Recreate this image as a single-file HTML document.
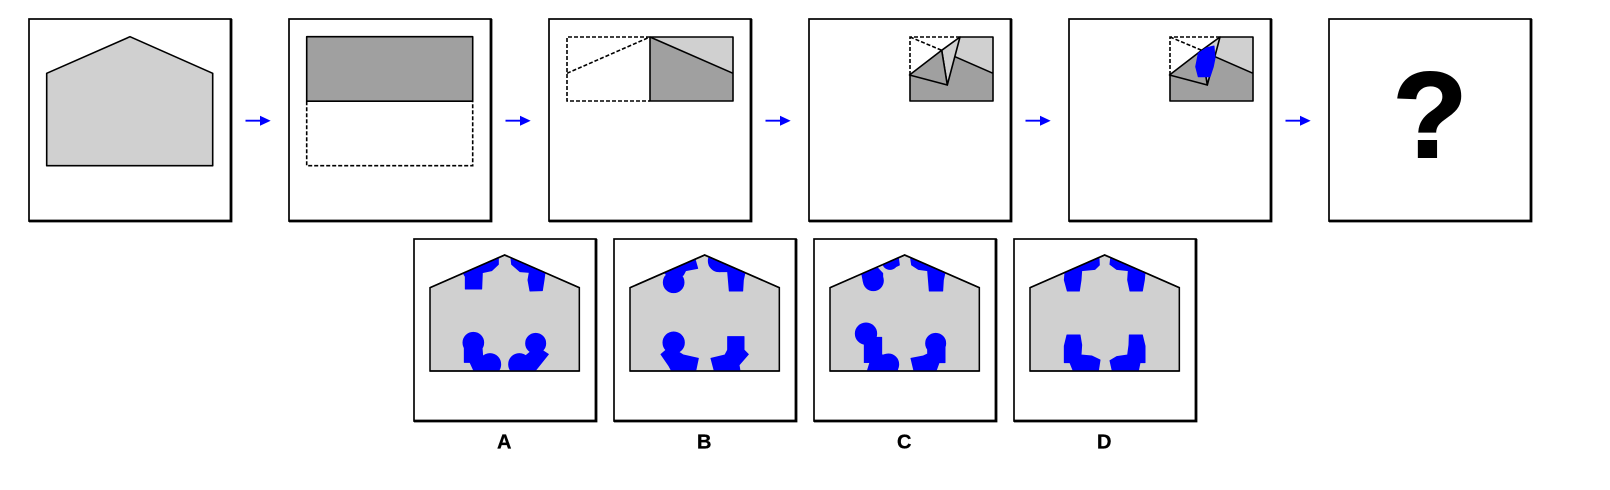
<!DOCTYPE html>
<html>
<head>
<meta charset="utf-8">
<title>Paper folding puzzle</title>
<style>
html,body{margin:0;padding:0;background:#fff;}
svg{display:block;}
.box{fill:#fff;stroke:#000;stroke-width:1.7;}
.thick{fill:none;stroke:#000;stroke-width:2.8;}
.ln{stroke:#000;stroke-width:1.6;fill:none;stroke-linejoin:round;}
.dash{stroke:#000;stroke-width:1.6;fill:none;stroke-dasharray:4 2;}
.light{fill:#d0d0d0;}
.dark{fill:#a0a0a0;}
.blue{fill:#0000ff;stroke:#0000ff;stroke-width:3;stroke-linejoin:round;}
.lbl{font-family:"Liberation Sans",sans-serif;font-weight:bold;font-size:20px;text-anchor:middle;fill:#000;stroke:#000;stroke-width:.3;}
.arrowhead{fill:#0000ff;}
</style>
</head>
<body>
<svg xmlns="http://www.w3.org/2000/svg" width="1610" height="490" viewBox="0 0 1610 490">
<defs>
<clipPath id="house-clip"><polygon points="90,173 314,75 538,173 538,423 90,423"/></clipPath>
<clipPath id="house-clip-b"><polygon points="105,173 329,75 553,173 553,423 105,423"/></clipPath>
<clipPath id="house-clip-c"><polygon points="120,173 344,75 568,173 568,423 120,423"/></clipPath>
<clipPath id="house-clip-d"><polygon points="135,173 359,75 583,173 583,423 135,423"/></clipPath>
</defs>

<!-- Step 1 -->
<g transform="translate(29,19)">
<rect class="box" x="0" y="0" width="202" height="202"/>
<path class="thick" d="M202,0V202H0"/>
<polygon class="ln" style="fill:#d0d0d0" points="17.7,54.3 101,17.7 183.7,54.3 183.7,146.7 17.7,146.7"/>
</g>
<g><line x1="245.5" y1="120.7" x2="262" y2="120.7" stroke="#00f" stroke-width="1.8"/><polygon class="arrowhead" points="260,115.7 270.7,120.7 260,125.7"/></g>

<!-- Step 2 -->
<g transform="translate(289,19)">
<rect class="box" x="0" y="0" width="202" height="202"/>
<path class="thick" d="M202,0V202H0"/>
<rect class="ln" style="fill:#a0a0a0" x="17.7" y="17.7" width="166" height="64.5"/>
<path class="dash" d="M17.7,82.2V146.7H183.7V82.2"/>
</g>
<g><line x1="505.5" y1="120.7" x2="522" y2="120.7" stroke="#00f" stroke-width="1.8"/><polygon class="arrowhead" points="520,115.7 530.7,120.7 520,125.7"/></g>

<!-- Step 3 -->
<g transform="translate(549,19)">
<rect class="box" x="0" y="0" width="202" height="202"/>
<path class="thick" d="M202,0V202H0"/>
<rect class="dark" x="101" y="18" width="83" height="64"/>
<polygon class="light" points="101,18 184,18 184,54.3"/>
<rect class="ln" x="101" y="18" width="83" height="64"/>
<line class="ln" x1="101" y1="18" x2="184" y2="54.3"/>
<path class="dash" d="M101,18H18V82H101M18,54.3L101,18"/>
</g>
<g><line x1="765.5" y1="120.7" x2="782" y2="120.7" stroke="#00f" stroke-width="1.8"/><polygon class="arrowhead" points="780,115.7 790.7,120.7 780,125.7"/></g>

<!-- Step 4 -->
<g transform="translate(809,19)">
<rect class="box" x="0" y="0" width="202" height="202"/>
<path class="thick" d="M202,0V202H0"/>
<polygon class="dark" points="101,56 151,18 184,18 184,82 101,82"/>
<polygon class="light" points="151,18 184,18 184,54.3 146,37.7"/>
<polygon class="ln" style="fill:#d0d0d0" points="132.7,31.3 151,18 138.3,66"/>
<polygon class="ln" style="fill:#a0a0a0" points="100.5,56 132.7,31.3 138.3,66"/>
<path class="ln" d="M151,18H184V82H101V56M146,37.7L184,54.3"/>
<path class="dash" d="M151,18H101V56M101,18L132.7,31.3"/>
</g>
<g><line x1="1025.5" y1="120.7" x2="1042" y2="120.7" stroke="#00f" stroke-width="1.8"/><polygon class="arrowhead" points="1040,115.7 1050.7,120.7 1040,125.7"/></g>

<!-- Step 5 -->
<g transform="translate(1069,19)">
<rect class="box" x="0" y="0" width="202" height="202"/>
<path class="thick" d="M202,0V202H0"/>
<polygon class="dark" points="101,56 151,18 184,18 184,82 101,82"/>
<polygon class="light" points="151,18 184,18 184,54.3 146,37.7"/>
<polygon class="ln" style="fill:#d0d0d0" points="132.7,31.3 151,18 138.3,66"/>
<polygon class="ln" style="fill:#a0a0a0" points="100.5,56 132.7,31.3 138.3,66"/>
<path class="ln" d="M151,18H184V82H101V56M146,37.7L184,54.3"/>
<path class="dash" d="M151,18H101V56M101,18L132.7,31.3"/>
<polygon fill="#0000ff" stroke="#0000ff" stroke-width="1" stroke-linejoin="round" points="129.3,34.3 137.7,28.7 145,27 146,39.3 144.3,47.7 141,57.7 129.3,57.7 126.7,47.7"/>
</g>
<g><line x1="1285.5" y1="120.7" x2="1302" y2="120.7" stroke="#00f" stroke-width="1.8"/><polygon class="arrowhead" points="1300,115.7 1310.7,120.7 1300,125.7"/></g>

<!-- Question panel -->
<g transform="translate(1329,19)">
<rect class="box" x="0" y="0" width="202" height="202"/>
<path class="thick" d="M202,0V202H0"/>
</g>
<text x="1430" y="157" font-family="'Liberation Sans',sans-serif" font-weight="bold" font-size="122" text-anchor="middle" fill="#000" stroke="#000" stroke-width="2">?</text>

<!-- Option A -->
<g transform="translate(400,230) scale(0.33333)">
<rect x="42" y="27" width="546" height="546" fill="#fff" stroke="#000" stroke-width="5"/>
<path fill="none" stroke="#000" stroke-width="8.4" d="M588,27V573H42"/>
<polygon fill="#d0d0d0" stroke="#000" stroke-width="4.6" points="90,173 314,75 538,173 538,423 90,423"/>
<g clip-path="url(#house-clip)">
<polygon class="blue" points="190,130 295,85 295,103 275,122 247,128 245,177 196,177 196,140"/>
<polygon class="blue" points="333,85 435,128 432,150 427,182 390,183 384,150 388,127 360,125 335,103"/>
<circle class="blue" cx="220" cy="338" r="31"/>
<circle class="blue" cx="270" cy="403" r="32"/>
<polygon class="blue" points="193,340 245,340 248,378 270,380 295,423 222,423 210,397 193,397"/>
<circle class="blue" cx="407" cy="340" r="30"/>
<circle class="blue" cx="358" cy="403" r="32"/>
<polygon class="blue" points="380,375 410,350 445,373 405,423 340,423"/>
</g>
<path fill="none" stroke="#000" stroke-width="4.6" d="M90,173L314,75L538,173M90,423H538"/>
</g>
<text class="lbl" x="504.2" y="448.4">A</text>

<!-- Option B -->
<g transform="translate(595,230) scale(0.33333)">
<rect x="57" y="27" width="546" height="546" fill="#fff" stroke="#000" stroke-width="5"/>
<path fill="none" stroke="#000" stroke-width="8.4" d="M603,27V573H57"/>
<polygon fill="#d0d0d0" stroke="#000" stroke-width="4.6" points="105,173 329,75 553,173 553,423 105,423"/>
<g clip-path="url(#house-clip-b)">
<circle class="blue" cx="236" cy="157" r="31"/>
<polygon class="blue" points="207,128 300,87 308,115 272,122 265,135 236,150"/>
<circle class="blue" cx="372" cy="93" r="32"/>
<polygon class="blue" points="345,83 450,128 445,150 443,183 403,183 398,125 372,125"/>
<circle class="blue" cx="236" cy="338" r="32"/>
<polygon class="blue" points="198,373 225,350 265,375 310,385 302,423 230,423 222,408"/>
<rect class="blue" x="398" y="320" width="49" height="50"/>
<polygon class="blue" points="398,360 447,360 460,373 432,405 435,423 358,423 348,385 390,375"/>
</g>
<path fill="none" stroke="#000" stroke-width="4.6" d="M105,173L329,75L553,173M105,423H553"/>
</g>
<text class="lbl" x="704.2" y="448.4">B</text>

<!-- Option C -->
<g transform="translate(790,230) scale(0.33333)">
<rect x="72" y="27" width="546" height="546" fill="#fff" stroke="#000" stroke-width="5"/>
<path fill="none" stroke="#000" stroke-width="8.4" d="M618,27V573H72"/>
<polygon fill="#d0d0d0" stroke="#000" stroke-width="4.6" points="120,173 344,75 568,173 568,423 120,423"/>
<g clip-path="url(#house-clip-c)">
<circle class="blue" cx="250" cy="152" r="30"/>
<polygon class="blue" points="215,130 262,113 278,130 278,160 220,155"/>
<circle class="blue" cx="300" cy="95" r="23"/>
<polygon class="blue" points="278,102 325,83 328,105 300,118"/>
<polygon class="blue" points="362,85 465,128 460,150 458,183 418,183 413,122 385,118 365,105"/>
<circle class="blue" cx="228" cy="311" r="32"/>
<rect class="blue" x="223" y="322" width="52" height="75"/>
<circle class="blue" cx="295" cy="403" r="31"/>
<polygon class="blue" points="223,397 240,397 232,423 325,423 290,375 270,375"/>
<circle class="blue" cx="437" cy="340" r="30"/>
<polygon class="blue" points="413,345 465,345 465,398 447,398 438,423 372,423 363,385 400,378 413,372"/>
</g>
<path fill="none" stroke="#000" stroke-width="4.6" d="M120,173L344,75L568,173M120,423H568"/>
</g>
<text class="lbl" x="904.2" y="448.4">C</text>

<!-- Option D -->
<g transform="translate(985,230) scale(0.33333)">
<rect x="87" y="27" width="546" height="546" fill="#fff" stroke="#000" stroke-width="5"/>
<path fill="none" stroke="#000" stroke-width="8.4" d="M633,27V573H87"/>
<polygon fill="#d0d0d0" stroke="#000" stroke-width="4.6" points="135,173 359,75 583,173 583,423 135,423"/>
<g clip-path="url(#house-clip-d)">
<polygon class="blue" points="240,128 342,85 343,105 330,118 290,122 288,150 283,183 247,183 238,150"/>
<polygon class="blue" points="377,85 480,128 478,150 472,183 435,183 428,150 430,122 395,118 375,103"/>
<polygon class="blue" points="246,315 285,315 290,345 288,375 320,378 345,390 340,423 265,423 255,398 238,398 238,348"/>
<polygon class="blue" points="433,315 472,315 480,348 480,398 465,398 460,423 382,423 375,392 395,380 428,375 432,345"/>
</g>
<path fill="none" stroke="#000" stroke-width="4.6" d="M135,173L359,75L583,173M135,423H583"/>
</g>
<text class="lbl" x="1104.2" y="448.4">D</text>
</svg>
</body>
</html>
